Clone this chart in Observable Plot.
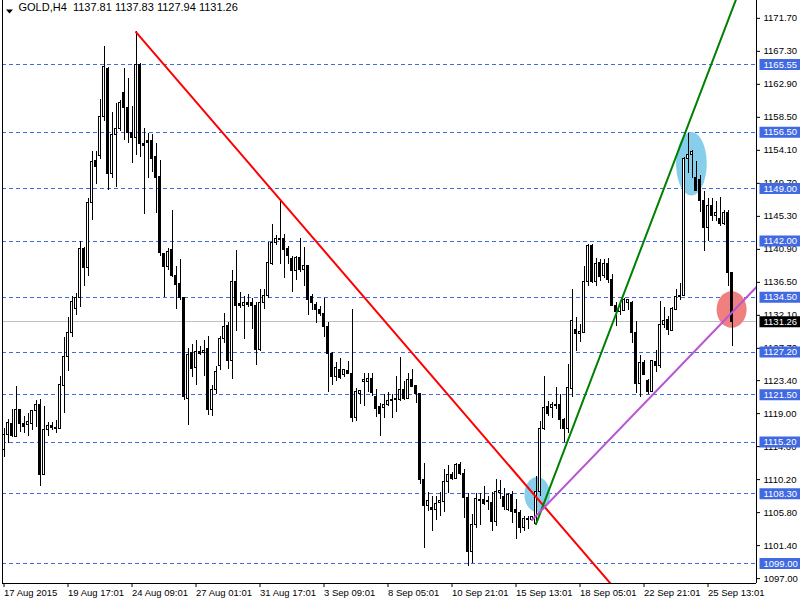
<!DOCTYPE html>
<html><head><meta charset="utf-8">
<script src="https://cdn.jsdelivr.net/npm/d3@7"></script>
<script src="https://cdn.jsdelivr.net/npm/@observablehq/plot@0.6"></script>
<style>html,body{margin:0;padding:0;background:#fff}#chart svg{display:block}</style>
</head><body><div id="chart"></div>
<script>
const symbolName = "GOLD,H4";
const xTickIdx = [0,16,32,48,64,80,96,112,128,144,160,176];
const xTickLabels = ["17 Aug 2015","19 Aug 17:01","24 Aug 09:01","27 Aug 01:01","31 Aug 17:01","3 Sep 09:01","8 Sep 05:01","10 Sep 21:01","15 Sep 13:01","18 Sep 05:01","22 Sep 21:01","25 Sep 13:01"];
const yTicks = [1171.70,1167.30,1162.90,1158.50,1154.10,1149.70,1145.30,1140.90,1136.50,1132.10,1127.70,1123.40,1119.00,1114.60,1110.20,1105.80,1101.40,1097.00];
const levels = [1165.55,1156.50,1149.00,1142.00,1134.50,1127.20,1121.50,1115.20,1108.30,1099.00];
const bidPrice = 1131.26;

const openP = [1114.1,1116.2,1117.6,1115.9,1119.5,1117.6,1117.5,1117.6,1119.3,1120.2,
 1110.8,1116.8,1117.4,1117.1,1117.0,1122.7,1126.5,1129.8,1132.9,1134.4,
 1141.0,1138.4,1147.1,1152.7,1153.4,1158.6,1165.0,1150.9,1156.1,1157.0,
 1161.8,1159.8,1156.4,1155.8,1165.5,1155.0,1155.3,1155.3,1153.2,1150.5,
 1140.3,1138.6,1140.8,1137.3,1136.3,1134.4,1121.0,1127.1,1125.1,1127.2,
 1127.1,1127.6,1119.5,1122.1,1125.4,1128.9,1130.7,1126.0,1136.6,1133.6,
 1133.3,1133.7,1133.7,1133.3,1127.5,1133.8,1134.7,1139.0,1141.7,1142.3,
 1142.3,1140.9,1139.6,1138.0,1139.8,1138.1,1138.7,1134.6,1133.5,1132.8,
 1132.3,1130.5,1127.0,1123.9,1124.8,1124.2,1124.7,1124.3,1118.4,1121.6,
 1123.2,1123.2,1123.6,1121.2,1119.9,1119.7,1120.2,1120.7,1120.8,1120.8,
 1122.1,1121.0,1123.5,1122.7,1121.6,1110.1,1106.7,1106.4,1106.1,1107.1,
 1107.2,1109.9,1110.8,1110.3,1112.1,1111.0,1107.7,1100.5,1104.2,1107.3,
 1107.5,1107.3,1107.1,1104.6,1108.4,1107.9,1106.2,1108.1,1106.1,1105.8,
 1103.7,1104.9,1104.8,1104.3,1108.5,1117.0,1119.9,1119.8,1120.1,1120.1,
 1118.1,1117.0,1122.3,1130.1,1129.6,1129.8,1136.6,1141.3,1136.5,1139.1,
 1137.3,1139.0,1136.8,1133.4,1132.5,1132.7,1133.8,1133.8,1129.8,1123.0,
 1125.8,1123.4,1121.9,1125.9,1125.3,1130.8,1131.5,1130.0,1132.8,1134.5,
 1134.7,1152.9,1153.5,1150.4,1150.1,1147.3,1143.8,1146.7,1145.3,1145.0,
 1144.3,1145.8,1137.81];
const highP = [1117.0,1118.2,1119.6,1122.6,1119.6,1118.6,1119.0,1119.4,1120.7,1120.9,
 1120.0,1117.8,1117.8,1118.1,1124.0,1129.2,1131.8,1134.6,1135.0,1142.0,
 1141.1,1147.7,1153.9,1154.0,1160.9,1168.0,1165.2,1159.2,1160.3,1160.7,
 1165.0,1163.7,1160.0,1169.9,1165.7,1157.0,1156.4,1156.2,1155.0,1152.7,
 1140.4,1141.0,1146.1,1138.6,1139.6,1134.5,1127.7,1128.2,1128.7,1128.0,
 1128.7,1129.3,1122.7,1125.3,1129.3,1132.4,1131.2,1138.1,1140.8,1135.1,
 1134.6,1134.9,1134.4,1133.8,1135.6,1135.6,1141.8,1144.2,1142.7,1147.5,
 1142.9,1141.3,1140.0,1140.0,1142.4,1141.2,1138.8,1134.9,1133.8,1133.3,
 1134.4,1131.1,1127.1,1125.8,1126.3,1124.9,1126.0,1132.9,1122.4,1122.0,
 1124.4,1124.4,1124.4,1122.2,1120.4,1121.5,1121.8,1121.5,1124.0,1126.5,
 1123.3,1124.3,1124.9,1122.8,1121.7,1112.4,1108.5,1107.9,1107.9,1108.5,
 1111.6,1112.1,1111.1,1112.4,1112.5,1111.5,1108.3,1105.5,1108.3,1108.4,
 1109.3,1108.0,1108.5,1110.2,1110.1,1109.0,1108.3,1108.6,1107.5,1106.1,
 1105.3,1105.3,1105.3,1110.6,1117.9,1124.0,1120.6,1120.5,1122.5,1121.5,
 1118.4,1125.5,1135.6,1131.8,1130.9,1138.6,1141.6,1141.5,1139.7,1139.6,
 1139.6,1139.7,1137.5,1133.8,1133.9,1134.4,1134.2,1133.9,1131.3,1126.8,
 1126.1,1123.5,1126.1,1127.4,1134.0,1133.2,1131.9,1133.2,1135.6,1136.4,
 1153.2,1156.4,1154.1,1152.6,1150.8,1148.6,1147.7,1147.7,1147.3,1147.8,
 1146.1,1146.1,1137.83];
const lowP = [1113.2,1115.0,1115.8,1115.8,1116.5,1116.3,1116.0,1116.8,1117.2,1109.3,
 1110.7,1116.0,1116.8,1116.3,1117.0,1119.0,1124.6,1129.2,1132.1,1133.2,
 1135.9,1137.3,1144.7,1149.6,1152.9,1157.9,1148.7,1150.4,1149.1,1156.6,
 1155.4,1155.0,1152.3,1153.4,1153.2,1145.6,1150.4,1151.2,1145.7,1139.9,
 1134.5,1138.1,1137.2,1132.9,1134.1,1120.8,1117.4,1123.8,1122.7,1126.7,
 1124.0,1118.8,1118.6,1121.6,1124.7,1128.4,1124.9,1123.6,1130.0,1133.0,
 1128.9,1133.1,1130.2,1125.4,1127.3,1132.9,1134.4,1138.8,1141.4,1138.9,
 1137.0,1138.9,1135.1,1136.7,1137.8,1136.0,1132.1,1132.8,1131.0,1131.9,
 1129.1,1121.8,1122.8,1123.3,1123.6,1123.8,1124.2,1117.8,1117.9,1120.2,
 1120.0,1121.8,1121.3,1118.5,1115.9,1118.4,1119.9,1118.4,1119.1,1120.6,
 1120.8,1121.0,1122.5,1120.4,1109.5,1101.0,1105.9,1103.3,1104.7,1105.3,
 1105.8,1108.4,1110.1,1110.3,1110.7,1105.0,1098.6,1099.0,1103.7,1104.1,
 1106.8,1106.1,1103.3,1103.9,1107.6,1106.1,1105.9,1104.4,1102.2,1103.0,
 1103.3,1103.5,1104.7,1104.1,1107.9,1116.7,1118.6,1118.4,1119.5,1116.9,
 1115.1,1116.4,1121.2,1127.3,1128.5,1129.7,1135.9,1136.4,1135.9,1136.6,
 1137.0,1136.4,1133.3,1130.6,1132.1,1132.6,1132.8,1128.3,1121.7,1121.2,
 1124.1,1121.6,1121.8,1124.5,1125.0,1130.3,1129.4,1129.9,1132.7,1134.1,
 1134.6,1151.0,1150.4,1148.6,1145.8,1140.6,1141.9,1144.6,1144.6,1144.0,
 1144.1,1135.9,1127.94];
const closeP = [1116.2,1117.8,1116.0,1119.5,1117.6,1117.2,1117.9,1119.3,1120.2,1110.8,
 1116.8,1117.4,1117.1,1117.0,1122.8,1126.5,1129.8,1133.9,1134.4,1141.0,
 1138.4,1147.1,1152.6,1151.9,1158.6,1165.2,1150.9,1156.1,1157.0,1160.4,
 1159.7,1156.4,1155.8,1165.5,1155.0,1154.7,1155.1,1153.0,1150.4,1140.4,
 1138.6,1140.6,1137.3,1136.1,1134.4,1121.2,1126.8,1124.9,1127.2,1127.0,
 1127.4,1119.5,1122.2,1124.5,1128.9,1130.5,1126.0,1136.6,1133.3,1133.4,
 1133.7,1133.5,1133.3,1127.5,1133.8,1134.7,1139.1,1141.7,1142.3,1142.1,
 1140.8,1140.0,1138.0,1139.7,1138.1,1138.7,1134.2,1133.8,1132.8,1132.3,
 1130.6,1127.0,1123.9,1125.1,1123.8,1124.8,1124.3,1118.4,1121.9,1122.0,
 1123.5,1123.6,1121.7,1119.6,1118.9,1120.2,1120.7,1120.8,1120.9,1122.1,
 1121.0,1123.5,1122.6,1121.6,1110.1,1106.7,1107.3,1106.1,1107.0,1107.3,
 1109.9,1110.8,1110.3,1112.1,1111.0,1107.7,1100.5,1104.2,1107.6,1107.5,
 1107.0,1107.2,1104.5,1108.5,1108.7,1106.6,1108.1,1105.9,1105.8,1103.8,
 1105.0,1104.8,1105.2,1108.5,1117.0,1119.8,1119.0,1120.1,1120.0,1118.1,
 1117.0,1122.4,1131.3,1129.6,1129.9,1136.6,1141.3,1136.6,1139.0,1137.2,
 1139.0,1136.8,1133.4,1132.6,1133.2,1134.1,1134.1,1129.8,1123.0,1125.8,
 1124.2,1121.9,1126.0,1125.3,1130.8,1131.4,1130.1,1132.9,1134.5,1134.7,
 1152.9,1153.5,1153.9,1148.7,1147.3,1143.8,1146.7,1145.3,1145.8,1144.3,
 1145.8,1137.8,1131.26];

// trend lines: [bar index, price] anchor points
const redLine = [{i:33, p:1169.86},{i:160, p:1091.16}];
const greenLine = [{i:133, p:1104.28},{i:190, p:1184.0}];
const purpleLine = [{i:132, p:1104.81},{i:190, p:1136.92}];
// ellipses: center (bar index, price) and pixel radii
const ellipses = [
  {i:133.3, p:1108.22, rx:12.8, ry:17.5, color:"#87CEEB"},
  {i:171.85, p:1152.31, rx:15.3, ry:31.7, color:"#87CEEB"},
  {i:181.9, p:1132.88, rx:15, ry:18.3, color:"#F08080"}
];

const candles = openP.map((o, i) => ({i, o, h: highP[i], l: lowP[i], c: closeP[i]}));
const xDomain = [-0.375, 188.125];
const yDomain = [1096.35, 1174.08];

function ellipseSymbol(rx, ry) {
  return {draw(ctx) {
    const k = 0.5523, ox = rx * k, oy = ry * k;
    ctx.moveTo(-rx, 0);
    ctx.bezierCurveTo(-rx, -oy, -ox, -ry, 0, -ry);
    ctx.bezierCurveTo(ox, -ry, rx, -oy, rx, 0);
    ctx.bezierCurveTo(rx, oy, ox, ry, 0, ry);
    ctx.bezierCurveTo(-ox, ry, -rx, oy, -rx, 0);
    ctx.closePath();
  }};
}
const boxSymbol = {draw(ctx) { ctx.rect(3, -5.5, 44, 11); }};
const triSymbol = {draw(ctx) { ctx.moveTo(-3.5, -2); ctx.lineTo(3.5, -2); ctx.lineTo(0, 2); ctx.closePath(); }};

const last = candles[candles.length - 1];
const title = `${symbolName}\u00A0 ${last.o.toFixed(2)} ${last.h.toFixed(2)} ${last.l.toFixed(2)} ${last.c.toFixed(2)}`;

const fam = "'Liberation Sans', Arial, sans-serif";
const chart = Plot.plot({
  width: 800, height: 600,
  marginLeft: 2, marginRight: 44, marginTop: 0, marginBottom: 17,
  x: {type: "linear", domain: xDomain, axis: null},
  y: {type: "linear", domain: yDomain, axis: null},
  style: {fontFamily: fam, fontSize: "9.5px", background: "#fff", color: "#000", overflow: "visible"},
  marks: [
    Plot.ruleY(levels, {y: d => d, stroke: "#4169E1", strokeDasharray: "4,3", shapeRendering: "crispEdges"}),
    Plot.ruleY([bidPrice], {y: d => d, stroke: "#C0C0C0", shapeRendering: "crispEdges"}),
    ...ellipses.map(e => Plot.dot([e], {x: "i", y: "p", r: 5, symbol: ellipseSymbol(e.rx, e.ry), fill: e.color, stroke: "none"})),
    Plot.ruleX(candles, {x: "i", y1: "l", y2: "h", stroke: "#000", shapeRendering: "crispEdges"}),
    Plot.rect(candles, {x1: d => d.i - 0.25, x2: d => d.i + 0.25, y1: "o", y2: "c",
      fill: d => d.c >= d.o ? "#fff" : "#000", stroke: "#000", shapeRendering: "crispEdges"}),
    Plot.line(redLine, {x: "i", y: "p", stroke: "#FF0000", strokeWidth: 2, clip: true}),
    Plot.line(greenLine, {x: "i", y: "p", stroke: "#008000", strokeWidth: 2, clip: true}),
    Plot.line(purpleLine, {x: "i", y: "p", stroke: "#BA55D3", strokeWidth: 2, clip: true}),
    Plot.ruleX(xDomain, {x: d => d, stroke: "#000", shapeRendering: "crispEdges"}),
    Plot.ruleY([yDomain[0]], {y: d => d, stroke: "#000", shapeRendering: "crispEdges"}),
    Plot.axisY(yTicks, {anchor: "right", tickSize: 3, tickPadding: 4, tickFormat: d => d.toFixed(2), label: null, textAnchor: "start"}),
    Plot.axisX(xTickIdx, {anchor: "bottom", tickSize: 4, tickPadding: 2, tickFormat: d => xTickLabels[xTickIdx.indexOf(d)], label: null, textAnchor: "start", dx: 0}),
    Plot.dot(levels, {y: d => d, frameAnchor: "right", r: 5, symbol: boxSymbol, fill: "#4169E1", stroke: "none"}),
    Plot.text(levels, {y: d => d, frameAnchor: "right", text: d => d.toFixed(2), textAnchor: "start", dx: 7, fill: "#fff"}),
    Plot.dot([bidPrice], {y: d => d, frameAnchor: "right", r: 5, symbol: boxSymbol, fill: "#000", stroke: "none"}),
    Plot.text([bidPrice], {y: d => d, frameAnchor: "right", text: d => d.toFixed(2), textAnchor: "start", dx: 7, fill: "#fff"}),
    Plot.dot([title], {frameAnchor: "top-left", dx: 7, dy: 11, r: 4, symbol: triSymbol, fill: "#000", stroke: "none"}),
    Plot.text([title], {frameAnchor: "top-left", text: d => d, textAnchor: "start", lineAnchor: "top", dx: 16, dy: 3, fill: "#000", ariaLabel: "chart-title"})
  ]
});
// the header line uses a larger font than the axes
d3.select(chart).selectAll("text").filter(function() { return this.textContent.startsWith(symbolName); })
  .style("font-size", "11px");
document.getElementById("chart").appendChild(chart);
</script>
</body></html>
